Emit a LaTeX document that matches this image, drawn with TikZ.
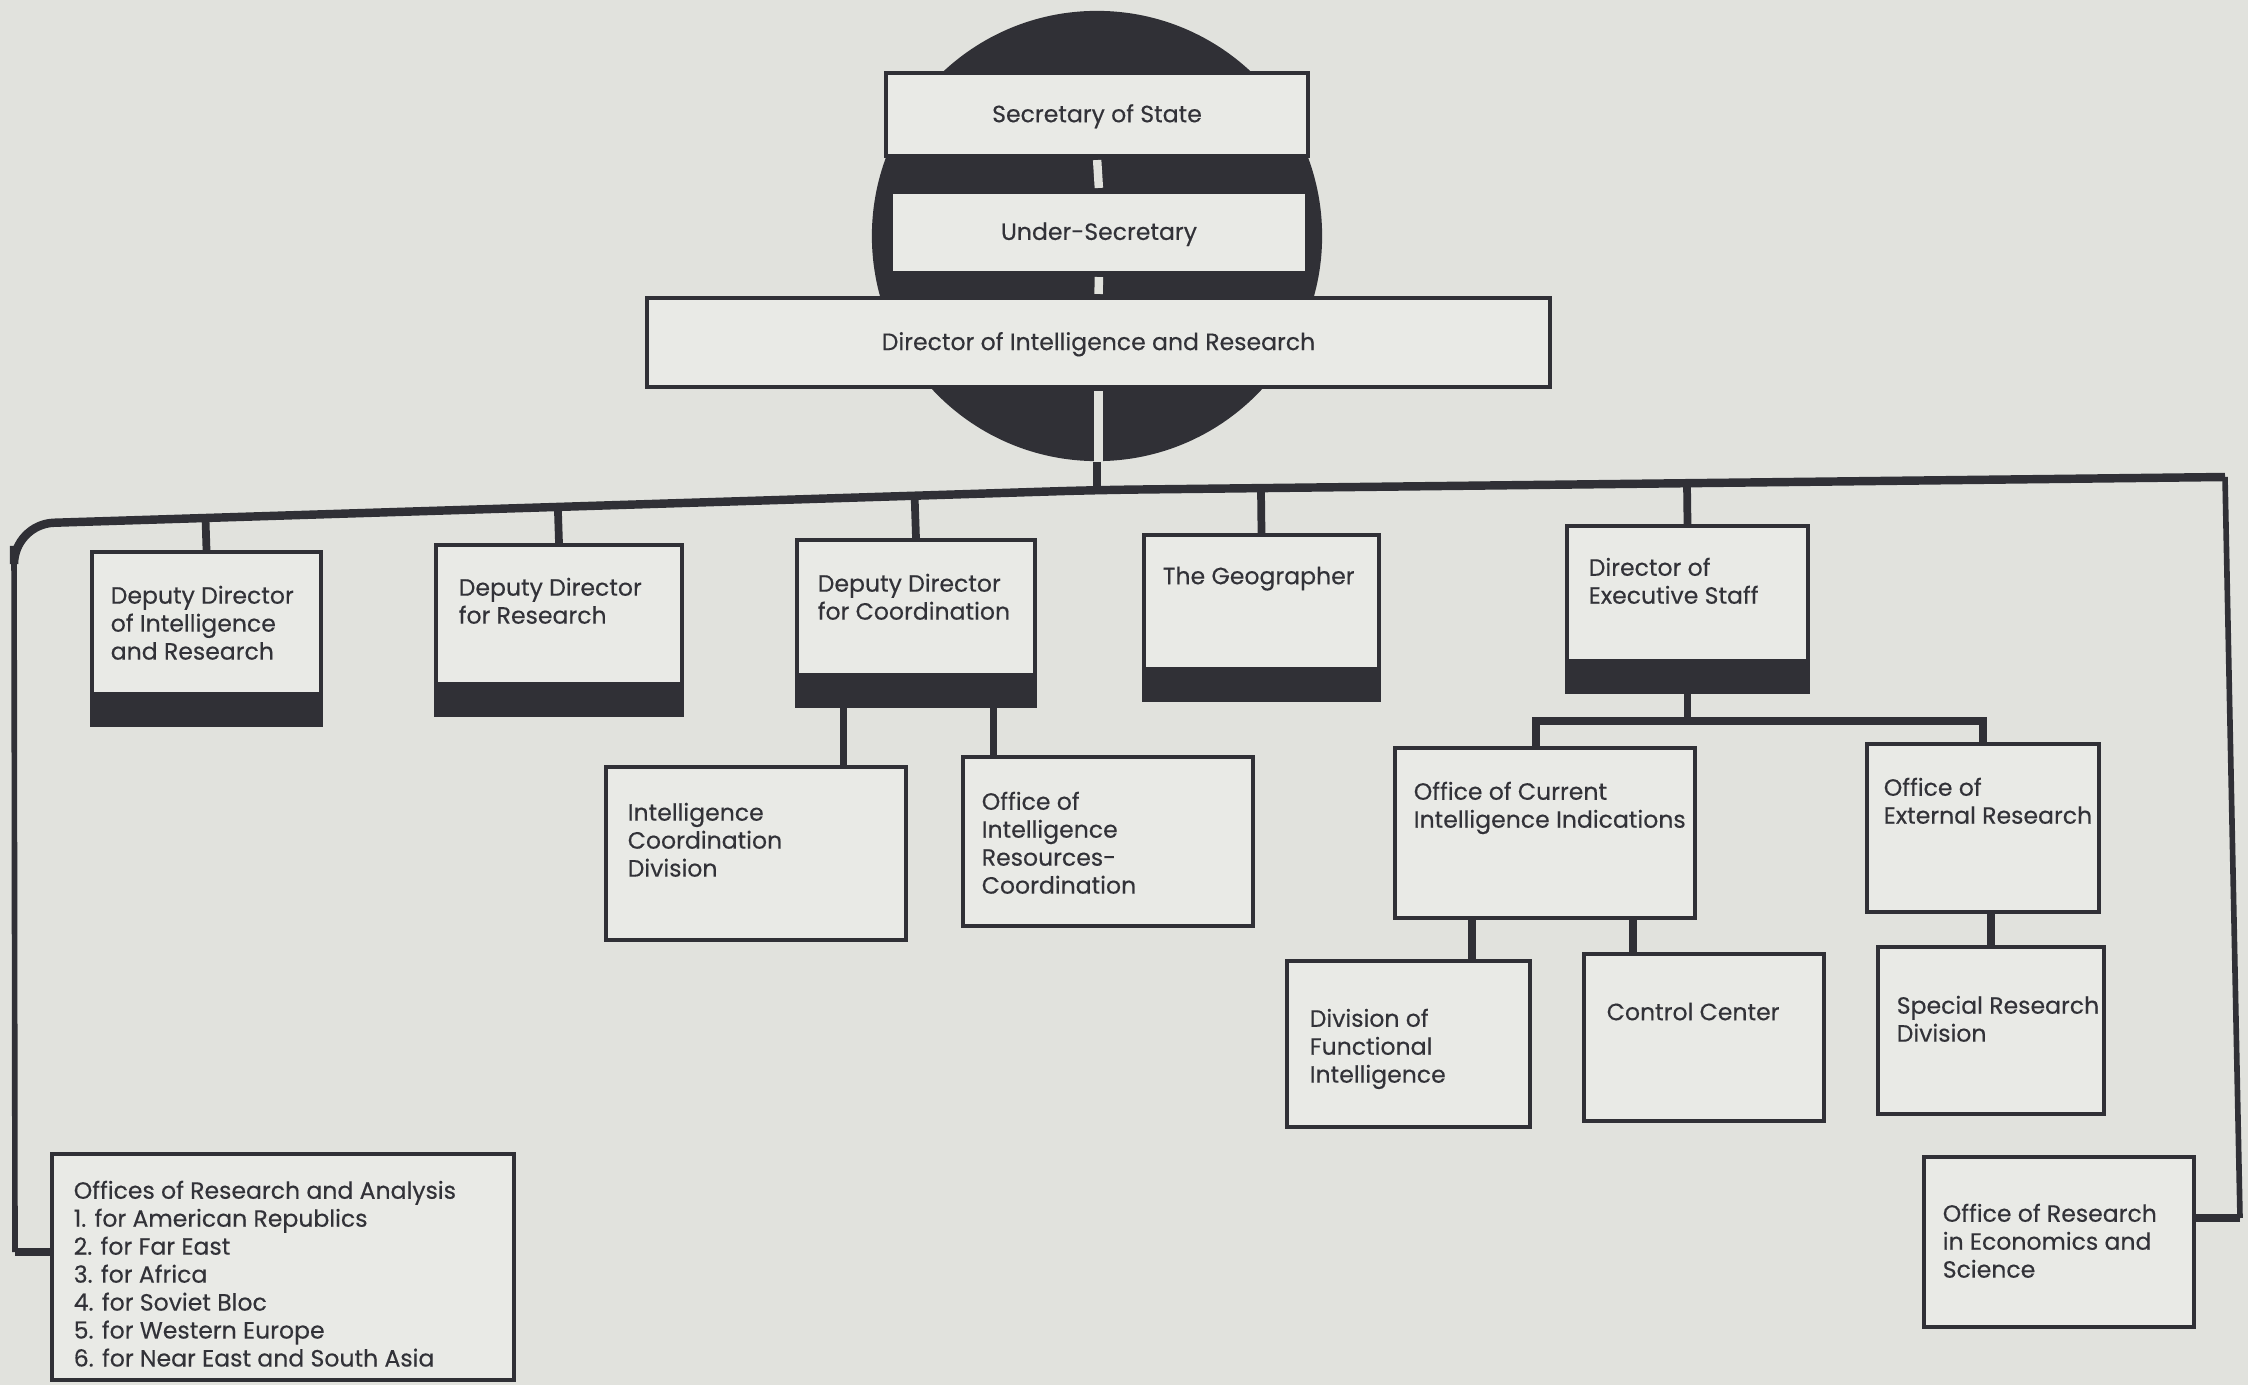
\documentclass[tikz,border=0pt]{standalone}
\usepackage{fontspec}
\setmainfont{Poppins}[FakeBold=0.35]
\usetikzlibrary{calc,fit,positioning}
\definecolor{paper}{RGB}{225,226,221}
\definecolor{karton}{RGB}{233,234,230}
\definecolor{tinte}{RGB}{48,48,54}
\definecolor{schrift}{RGB}{50,50,56}

\tikzset{
  box/.style={draw=tinte, line width=1.1pt, fill=karton, inner sep=0pt},
  bandbox/.style={box, path picture={\fill[tinte] (path picture bounding box.south west) rectangle ([yshift=0.33cm]path picture bounding box.south east);}},
  txt/.style={anchor=north west, align=left, inner sep=0pt, text=schrift, font=\fontsize{6.7}{7.95}\selectfont},
  ctxt/.style={txt, anchor=center, align=center},
  link/.style={draw=tinte, line width=2.2pt},
  bus/.style={draw=tinte, line width=2.4pt},
  side/.style={draw=tinte, line width=1.6pt},
  gap/.style={draw=paper, line width=2.4pt},
}

\begin{document}
\begin{tikzpicture}[x=0.01cm, y=-0.01cm]

    \fill[paper] (0,0) rectangle (2248,1385);
    \useasboundingbox (0,0) rectangle (2248,1385);

    % globe behind the top of the chart
    \node[circle, fill=tinte, minimum size=4.5cm, inner sep=0pt] (globe) at (1097,236) {};

    \node[box, fit={(886,73) (1308,156)}] (sec) {};
    \node[box, fit={(891,192) (1307,273)}] (under) {};
    \node[box, fit={(647,298) (1550,387)}] (dir) {};

    \node[ctxt] (secT) at ([yshift=-0.5pt]sec.center) {Secretary of State};
    \node[ctxt] (underT) at ([yshift=-0.5pt]under.center) {Under-Secretary};
    \node[ctxt] (dirT) at ([yshift=-0.5pt]dir.center) {Director of Intelligence and Research};

    \draw[gap, shorten <=0.6pt, shorten >=0.6pt] (sec.south) -- (under.north);
    \draw[gap, shorten <=0.6pt, shorten >=0.6pt] (under.south) -- (dir.north);
    \draw[gap, shorten <=0.6pt] (dir.south) -- (dir.south |- globe.south);

    % first row
    \node[bandbox, fit={(92,552) (321,725)}] (ddir) {};
    \node[bandbox, fit={(436,545) (682,715)}] (ddr) {};
    \node[bandbox, fit={(797,540) (1035,706)}] (ddc) {};
    \node[bandbox, fit={(1144,535) (1379,700)}] (geog) {};
    \node[bandbox, fit={(1567,526) (1808,692)}] (des) {};

    \node[txt] (ddirT) at ([shift={(20,35)}]ddir.north west) {Deputy Director\\of Intelligence\\and Research};
    \node[txt] (ddrT) at ([shift={(24,34)}]ddr.north west) {Deputy Director\\for Research};
    \node[txt] (ddcT) at ([shift={(22,35)}]ddc.north west) {Deputy Director\\for Coordination};
    \node[txt] (geogT) at ([shift={(20,33)}]geog.north west) {The Geographer};
    \node[txt] (desT) at ([shift={(23,33)}]des.north west) {Director of\\Executive Staff};

    % second row
    \node[box, fit={(606,767) (906,940)}] (icd) {};
    \node[box, fit={(963,757) (1253,926)}] (oirc) {};
    \node[box, fit={(1395,748) (1695,918)}] (ocii) {};
    \node[box, fit={(1867,744) (2099,912)}] (oer) {};

    \node[txt] (icdT) at ([shift={(23,37)}]icd.north west) {Intelligence\\Coordination\\Division};
    \node[txt] (oircT) at ([shift={(20,36)}]oirc.north west) {Office of\\Intelligence\\Resources-\\Coordination};
    \node[txt] (ociiT) at ([shift={(20,35)}]ocii.north west) {Office of Current\\Intelligence Indications};
    \node[txt] (oerT) at ([shift={(18,35)}]oer.north west) {Office of\\External Research};

    % third row
    \node[box, fit={(1287,961) (1530,1127)}] (dfi) {};
    \node[box, fit={(1584,954) (1824,1121)}] (cc) {};
    \node[box, fit={(1878,947) (2104,1114)}] (srd) {};

    \node[txt] (dfiT) at ([shift={(24,49)}]dfi.north west) {Division of\\Functional\\Intelligence};
    \node[txt] (ccT) at ([shift={(24,50)}]cc.north west) {Control Center};
    \node[txt] (srdT) at ([shift={(20,50)}]srd.north west) {Special Research\\Division};

    % bottom corners
    \node[box, fit={(52,1154) (514,1380)}] (ora) {};
    \node[box, fit={(1924,1157) (2194,1327)}] (ores) {};

    \node[txt] (oraT) at ([shift={(23,28)}]ora.north west) {Offices of Research and Analysis\\1. for American Republics\\2. for Far East\\3. for Africa\\4. for Soviet Bloc\\5. for Western Europe\\6. for Near East and South Asia};
    \node[txt] (oresT) at ([shift={(20,48)}]ores.north west) {Office of Research\\in Economics and\\Science};

    % main bus
    \coordinate (busL) at (14,524);
    \coordinate (busM) at (1097,490);
    \coordinate (busR) at (2225,477);
    \coordinate (cornL) at (15,1252);
    \coordinate (cornR) at (2240,1218);

    \draw[link] (globe.south) -- (busM);
    \draw[side, rounded corners=0.4cm] (busM) -- (busL) -- (cornL);
    \draw[link] (cornL) -- (cornL -| ora.west);
    \draw[side] (busR) -- (cornR);
    \draw[link] (cornR) -- (cornR -| ores.east);
    \draw[bus, rounded corners=0.4cm] (busR) -- (busM) -- (busL) -- ($(busL)!0.03!(cornL)$);

    \foreach \b in {ddir,ddr,ddc}
        \draw[link] (\b.north) -- ($(busL)!(\b.north)!(busM)$);
    \foreach \b in {geog,des}
        \draw[link] (\b.north) -- ($(busM)!(\b.north)!(busR)$);

    % sub branches
    \coordinate (ddcA) at ($(ddc.south west)!0.2!(ddc.south east)$);
    \coordinate (ddcB) at ($(ddc.south west)!0.82!(ddc.south east)$);
    \draw[link] (ddcA) -- (ddcA |- icd.north);
    \draw[link] (ddcB) -- (ddcB |- oirc.north);

    \coordinate (split) at ($(des.south)+(0,27)$);
    \coordinate (ociiN) at ($(ocii.north west)!0.47!(ocii.north east)$);
    \draw[link] (des.south) -- (split);
    \draw[link] (ociiN) |- (split) -| (oer.north);

    \coordinate (ociiA) at ($(ocii.south west)!0.26!(ocii.south east)$);
    \coordinate (ociiB) at ($(ocii.south west)!0.79!(ocii.south east)$);
    \draw[link] (ociiA) -- (ociiA |- dfi.north);
    \draw[link] (ociiB) -- (ociiB |- cc.north);
    \draw[link] (srd.north) -- (srd.north |- oer.south);

\end{tikzpicture}
\end{document}
